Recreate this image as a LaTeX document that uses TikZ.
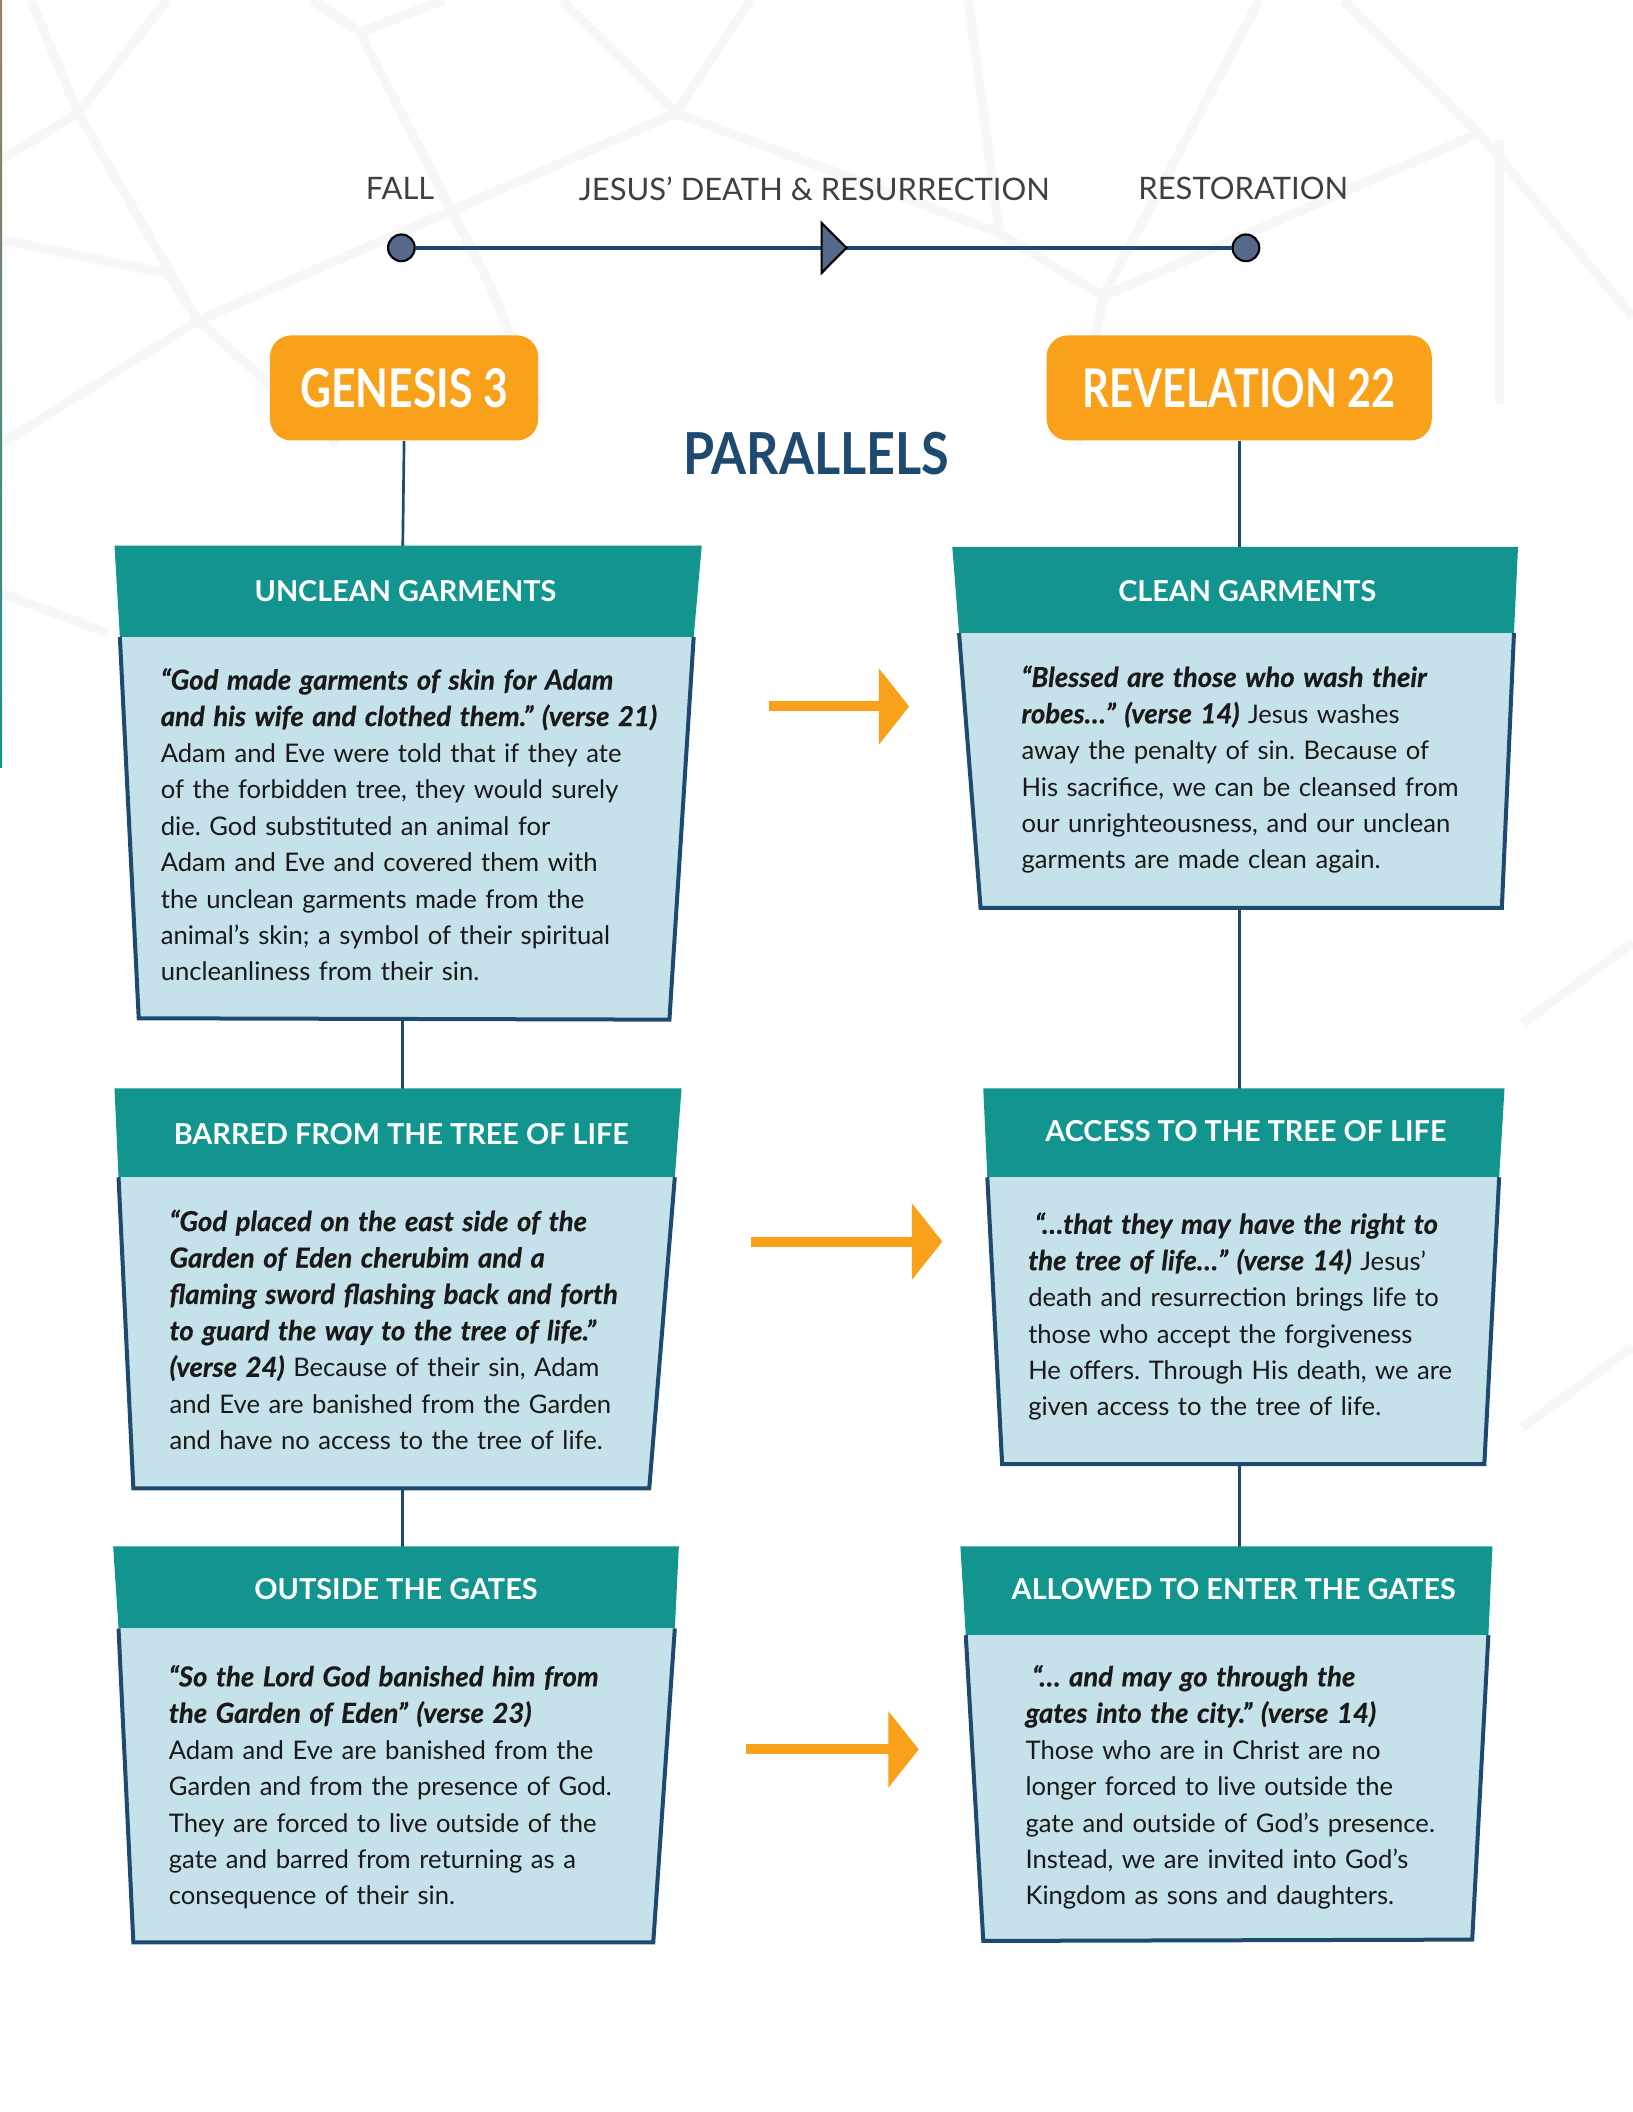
\documentclass[tikz,border=0pt]{standalone}
\usepackage{fontspec}
\setmainfont{Lato}
\newfontfamily\bqfam{Lato}[BoldItalicFeatures={FakeBold=0.5}]
\usetikzlibrary{arrows.meta}
\definecolor{orng}{HTML}{F9A11B}
\definecolor{tealh}{HTML}{12948F}
\definecolor{lblue}{HTML}{C5E1E9}
\definecolor{navy}{HTML}{1D4A6E}
\definecolor{slate}{HTML}{55698A}
\definecolor{bgline}{HTML}{F7F7F7}
\newcommand{\bq}[1]{{\bqfam\fontsize{10.3}{13.65}\selectfont\bfseries\itshape #1}}
\frenchspacing
\tikzset{
  hdrfill/.style={fill=tealh},
  bodyfill/.style={fill=lblue},
  bodyedge/.style={draw=navy, line width=1.5pt, line join=miter},
  hdrtext/.style={font=\fontsize{10.8}{13}\selectfont\bfseries, text=white, inner sep=0pt},
  bodytext/.style={font=\fontsize{9.6}{13.65}\selectfont\frenchspacing, text=black!90, anchor=base west, text width=215pt, align=left, inner sep=0pt},
  conn/.style={draw=navy, line width=1pt},
  parrow/.style={draw=orng, line width=3.74pt, -{Triangle[length=11.4pt,width=28.1pt]}},
  bookbox/.style={fill=orng, rounded corners=8pt, minimum height=39.4pt, inner sep=0pt, text=white},
  tllabel/.style={font=\fontsize{11.6}{13}\selectfont, text=black!75, inner sep=0pt},
  tldot/.style={circle, fill=slate, draw=black, line width=0.8pt, minimum size=10pt, inner sep=0pt},
  bgl/.style={draw=bgline, line width=3.5pt},
}
\begin{document}
\begin{tikzpicture}[x=0.50495pt,y=-0.50495pt]
\useasboundingbox (0,0) rectangle (1212,1568);
\fill[white] (0,0) rectangle (1212,1568);
% faint background network
\draw[bgl] (23,0) -- (58,84) -- (0,119);
\draw[bgl] (124,0) -- (58,84) -- (147,238) -- (250,330);
\draw[bgl] (0,178) -- (124,203) -- (147,238) -- (0,330);
\draw[bgl] (232,0) -- (267,24) -- (363,210) -- (400,300);
\draw[bgl] (267,24) -- (330,0);
\draw[bgl] (417,0) -- (502,84) -- (557,0);
\draw[bgl] (502,84) -- (147,238);
\draw[bgl] (502,84) -- (742,173) -- (719,0);
\draw[bgl] (742,173) -- (819,220) -- (935,0);
\draw[bgl] (997,0) -- (1098,99) -- (1212,235);
\draw[bgl] (1098,99) -- (819,220) -- (800,330);
\draw[bgl] (1113,104) -- (1113,300);
\draw[bgl] (0,440) -- (80,470);
\draw[bgl] (1212,700) -- (1130,760);
\draw[bgl] (1212,1000) -- (1130,1060);
% left edge stripe
\shade[top color=brown!50!gray, bottom color=tealh] (0,0) rectangle (1.6,570);

% timeline
\node[tllabel] (lfall) at (297,140) {FALL};
\node[tllabel] (ljesus) at (604.5,140) {JESUS’ DEATH \& RESURRECTION};
\node[tllabel] (lrest) at (923,140) {RESTORATION};
\node[tldot] (fall) at (298,184) {};
\node[tldot] (rest) at (925,184) {};
\draw[draw=navy, line width=1.6pt] (fall) -- (rest);
\coordinate (mid) at (610,184);
\draw[fill=slate, draw=black, line width=0.8pt, line join=miter] (610,165.5) -- (628.4,184) -- (610,202.6) -- cycle;

% book boxes
\node[bookbox, minimum width=100.5pt] (gen) at (300,288)
  {\scalebox{0.8}[1]{\fontsize{20}{20}\selectfont\bfseries GENESIS 3}};
\node[bookbox, minimum width=144.4pt] (rev) at (920,288)
  {\scalebox{0.78}[1]{\fontsize{20}{20}\selectfont\bfseries REVELATION 22}};
\node[inner sep=0pt, text=navy] (par) at (606,337)
  {\scalebox{0.87}[1]{\fontsize{21.7}{22}\selectfont\bfseries PARALLELS}};

% connector anchor points
\coordinate (l1top) at (299,406);
\coordinate (l1bot) at (299,756);
\coordinate (l2top) at (299,809);
\coordinate (l2bot) at (299,1104);
\coordinate (l3top) at (299,1149);
\coordinate (r1top) at (920,407);
\coordinate (r1bot) at (920,673);
\coordinate (r2top) at (920,809);
\coordinate (r2bot) at (920,1086);
\coordinate (r3top) at (920,1149);
\draw[conn] (gen.south) -- (l1top);
\draw[conn] (l1bot) -- (l2top);
\draw[conn] (l2bot) -- (l3top);
\draw[conn] (rev.south) -- (r1top);
\draw[conn] (r1bot) -- (r2top);
\draw[conn] (r2bot) -- (r3top);

% ---- Panel L1
\fill[hdrfill] (85,405) -- (521,405) -- (515,473) -- (89,473) -- cycle;
\fill[bodyfill] (89,473) -- (515,473) -- (497,757) -- (103,756) -- cycle;
\draw[bodyedge] (89,473) -- (103,756) -- (497,757) -- (515,473);
\node[hdrtext] (h1) at (301,439) {UNCLEAN GARMENTS};
\node[bodytext] (t1) at (119,512) {\bq{“God made garments of skin for Adam}\\
\bq{and his wife and clothed them.” (verse 21)}\\
Adam and Eve were told that if they ate\\
of the forbidden tree, they would surely\\
die. God substituted an animal for\\
Adam and Eve and covered them with\\
the unclean garments made from the\\
animal’s skin; a symbol of their spiritual\\
uncleanliness from their sin.};

% ---- Panel R1
\fill[hdrfill] (707,406) -- (1127,406) -- (1124,470) -- (712,470) -- cycle;
\fill[bodyfill] (712,470) -- (1124,470) -- (1115,674) -- (728,674) -- cycle;
\draw[bodyedge] (712,470) -- (728,674) -- (1115,674) -- (1124,470);
\node[hdrtext] (h2) at (926,439) {CLEAN GARMENTS};
\node[bodytext] (t2) at (758,510) {\bq{“Blessed are those who wash their}\\
\bq{robes…” (verse 14)} Jesus washes\\
away the penalty of sin. Because of\\
His sacrifice, we can be cleansed from\\
our unrighteousness, and our unclean\\
garments are made clean again.};

% ---- Panel L2
\fill[hdrfill] (85,808) -- (506,808) -- (501,874) -- (88,874) -- cycle;
\fill[bodyfill] (88,874) -- (501,874) -- (482,1105) -- (99,1105) -- cycle;
\draw[bodyedge] (88,874) -- (99,1105) -- (482,1105) -- (501,874);
\node[hdrtext] (h3) at (298,842) {BARRED FROM THE TREE OF LIFE};
\node[bodytext] (t3) at (125.5,914) {\bq{“God placed on the east side of the}\\
\bq{Garden of Eden cherubim and a}\\
\bq{flaming sword flashing back and forth}\\
\bq{to guard the way to the tree of life.”}\\
\bq{(verse 24)} Because of their sin, Adam\\
and Eve are banished from the Garden\\
and have no access to the tree of life.};

% ---- Panel R2
\fill[hdrfill] (730,808) -- (1117,808) -- (1113,874) -- (733,874) -- cycle;
\fill[bodyfill] (733,874) -- (1113,874) -- (1102,1087) -- (744,1087) -- cycle;
\draw[bodyedge] (733,874) -- (744,1087) -- (1102,1087) -- (1113,874);
\node[hdrtext] (h4) at (925,840) {ACCESS TO THE TREE OF LIFE};
\node[bodytext] (t4) at (763,916) {\hspace{2.5pt}\bq{“…that they may have the right to}\\
\bq{the tree of life…” (verse 14)} Jesus'\\
death and resurrection brings life to\\
those who accept the forgiveness\\
He offers. Through His death, we are\\
given access to the tree of life.};

% ---- Panel L3
\fill[hdrfill] (84,1148) -- (504,1148) -- (501,1209) -- (88,1209) -- cycle;
\fill[bodyfill] (88,1209) -- (501,1209) -- (485,1442) -- (99,1442) -- cycle;
\draw[bodyedge] (88,1209) -- (99,1442) -- (485,1442) -- (501,1209);
\node[hdrtext] (h5) at (294,1180) {OUTSIDE THE GATES};
\node[bodytext] (t5) at (125,1252) {\bq{“So the Lord God banished him from}\\
\bq{the Garden of Eden” (verse 23)}\\
Adam and Eve are banished from the\\
Garden and from the presence of God.\\
They are forced to live outside of the\\
gate and barred from returning as a\\
consequence of their sin.};

% ---- Panel R3
\fill[hdrfill] (713,1148) -- (1108,1148) -- (1105,1214) -- (717,1214) -- cycle;
\fill[bodyfill] (717,1214) -- (1105,1214) -- (1093,1440) -- (730,1441) -- cycle;
\draw[bodyedge] (717,1214) -- (730,1441) -- (1093,1440) -- (1105,1214);
\node[hdrtext] (h6) at (916,1180) {ALLOWED TO ENTER THE GATES};
\node[bodytext] (t6) at (761,1252) {\hspace{2.5pt}\bq{“… and may go through the}\\
\bq{gates into the city.” (verse 14)}\\
Those who are in Christ are no\\
longer forced to live outside the\\
gate and outside of God’s presence.\\
Instead, we are invited into God’s\\
Kingdom as sons and daughters.};

% ---- orange arrows
\coordinate (a1s) at (571,524.5);
\coordinate (a1e) at (675,524.5);
\coordinate (a2s) at (557.4,921.8);
\coordinate (a2e) at (699.6,921.8);
\coordinate (a3s) at (553.7,1298.8);
\coordinate (a3e) at (682.1,1298.8);
\draw[parrow] (a1s) -- (a1e);
\draw[parrow] (a2s) -- (a2e);
\draw[parrow] (a3s) -- (a3e);
\end{tikzpicture}
\end{document}
